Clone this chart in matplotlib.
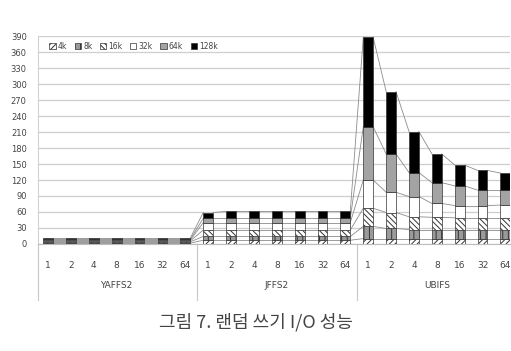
import matplotlib.pyplot as plt
import matplotlib.transforms as mtransforms
import numpy as np

plt.rcParams['font.family'] = ['DejaVu Sans']
plt.rcParams['hatch.linewidth'] = 0.7

# thread counts per file system, three groups
threads = ['1', '2', '4', '8', '16', '32', '64']
groups = ['YAFFS2', 'JFFS2', 'UBIFS']
sizes = ['4k', '8k', '16k', '32k', '64k', '128k']

# throughput for each request size (YAFFS2 x7, JFFS2 x7, UBIFS x7)
v4k = [1.5, 1.5, 1.5, 1.5, 1.5, 1.5, 1.5,
       7, 7, 7, 7, 7, 7, 7,
       10, 10, 10, 10, 10, 10, 10]
v8k = [2.5, 2.5, 2.5, 2.5, 2.5, 2.5, 2.5,
       7, 7, 7, 7, 7, 7, 7,
       23, 19, 17, 17, 17, 17, 17]
v16k = [1.5, 1.5, 1.5, 1.5, 1.5, 1.5, 1.5,
        12, 12, 12, 12, 12, 12, 12,
        34, 30, 24, 23, 22, 22, 22]
v32k = [1.5, 1.5, 1.5, 1.5, 1.5, 1.5, 1.5,
        14, 14, 14, 14, 14, 14, 14,
        53, 38, 38, 26, 23, 23, 24]
v64k = [1.5, 1.5, 1.5, 1.5, 1.5, 1.5, 1.5,
        8, 8, 8, 8, 8, 8, 8,
        100, 72, 45, 39, 37, 29, 28]
v128k = [2, 2, 2, 2, 2, 2, 2,
         11, 13, 13, 13, 13, 13, 13,
         168, 117, 77, 54, 39, 37, 32]

series = [v4k, v8k, v16k, v32k, v64k, v128k]
faces = ['white', '#9a9a9a', 'white', 'white', '#a3a3a3', 'black']
hatches = ['//////', '|||', '\\\\\\\\\\\\', None, None, None]

fig = plt.figure(figsize=(5.11, 3.51), dpi=100)
ax = fig.add_axes([0.074, 0.305, 0.924, 0.592])

x = np.arange(len(groups) * len(threads))
width = 0.43

# stacked bars
bottom = np.zeros(len(x))
tops = []
for name, vals, fc, h in zip(sizes, series, faces, hatches):
    vals = np.array(vals, dtype=float)
    ax.bar(x, vals, width, bottom=bottom, color=fc, hatch=h,
           edgecolor='#333333', linewidth=0.5, label=name, zorder=3)
    bottom = bottom + vals
    tops.append(bottom.copy())

# series lines between neighbouring bars
for cum in tops:
    for i in range(len(x) - 1):
        ax.plot([x[i] + width / 2, x[i + 1] - width / 2], [cum[i], cum[i + 1]],
                color='#8c8c8c', linewidth=0.6, zorder=2)

ax.set_ylim(0, 390)
ax.set_xlim(-0.45, 20.2)
ax.set_yticks(np.arange(0, 391, 30))
ax.yaxis.grid(True, color='#cfcfcf', linewidth=0.9, zorder=0)
ax.set_axisbelow(True)
ax.tick_params(axis='y', labelsize=6, colors='#444444', length=0, pad=8)
ax.set_xticks(x)
ax.set_xticklabels(threads * 3)
ax.tick_params(axis='x', labelsize=6.5, colors='#444444', length=0, pad=12)
for s in ['top', 'right', 'left']:
    ax.spines[s].set_visible(False)
ax.spines['bottom'].set_color('#bdbdbd')

# group separators and names below the axis
trans = mtransforms.blended_transform_factory(ax.transData, ax.transAxes)
for b in [-0.45, 6.5, 13.5]:
    ax.plot([b, b], [0, -0.27], transform=trans, color='#c8c8c8',
            linewidth=0.8, clip_on=False)
ax.plot([-0.45, -0.45], [0, 1], transform=trans, color='#d0d0d0',
        linewidth=0.8, clip_on=False)
for k, g in enumerate(groups):
    ax.text(3 + 7 * k, -0.2, g, transform=trans, ha='center', va='center',
            fontsize=6.5, color='#444444')

leg = ax.legend(loc='upper left', ncol=6, frameon=False, fontsize=5.5,
                handlelength=0.8, handleheight=0.8, handletextpad=0.3,
                columnspacing=1.0, bbox_to_anchor=(0.01, 1.005),
                labelcolor='#444444')

fig.text(0.5, 0.083, '그림 7. 랜덤 쓰기 I/O 성능', ha='center', va='center',
         fontsize=13, color='#444444', family=['Noto Sans CJK KR', 'DejaVu Sans'])

fig.savefig('out.png', dpi=100)
